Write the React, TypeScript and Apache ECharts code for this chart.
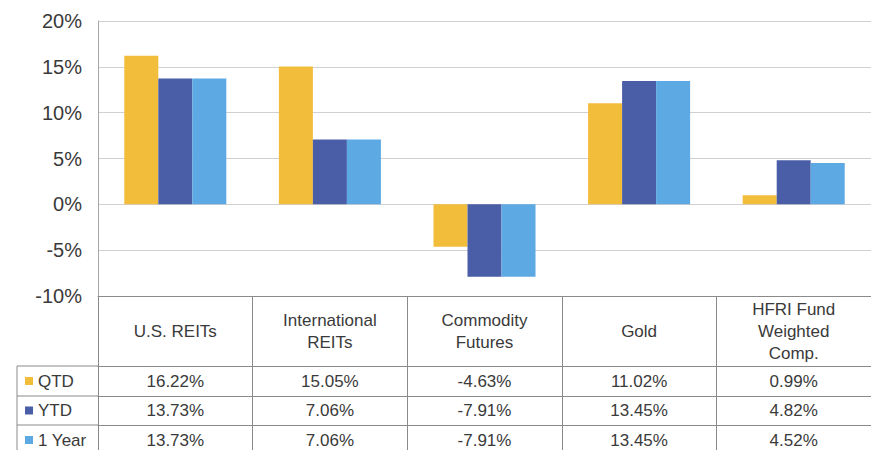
import React, { useEffect, useRef } from "react";
import * as echarts from "echarts";

const categories = ["U.S. REITs", "International\nREITs", "Commodity\nFutures", "Gold", "HFRI Fund\nWeighted\nComp."];
const seriesNames = ["QTD", "YTD", "1 Year"];
const qtd = [16.22, 15.05, -4.63, 11.02, 0.99];
const ytd = [13.73, 7.06, -7.91, 13.45, 4.82];
const oneYear = [13.73, 7.06, -7.91, 13.45, 4.52];
const yMin = -10;
const yMax = 20;
const yStep = 5;

const colors = ["#F2BD3B", "#4A5EA7", "#5DA9E3"];

const fmt = (v: number) => v.toFixed(2) + "%";

export default function App() {
  const ref = useRef<HTMLDivElement>(null);
  useEffect(() => {
    if (!ref.current) return;
    const chart = echarts.init(ref.current, null, { renderer: "svg" });
    const L = 98;
    const T = 21;
    const H = 275;
    const W = 778.5;
    const headerH = 70;
    const rowH = [30, 29, 30];
    const font = "'Liberation Sans', Arial, sans-serif";
    const lineColor = "#8a8a8a";
    const textColor = "#3a3a3a";
    const bottomY = T + H;
    const rowTops = [bottomY + headerH, bottomY + headerH + rowH[0], bottomY + headerH + rowH[0] + rowH[1]];
    const rows = [qtd, ytd, oneYear];

    const rowAxes = rows.map((vals, i) => ({
      type: "category",
      gridIndex: 0,
      position: "bottom",
      offset: rowTops[i] - bottomY,
      data: vals.map(fmt),
      axisLine: { show: true, onZero: false, lineStyle: { color: lineColor, width: 1 } },
      axisTick: { show: true, length: rowH[i], interval: 0, lineStyle: { color: lineColor } },
      axisLabel: {
        interval: 0,
        margin: rowH[i] / 2,
        verticalAlign: "middle",
        fontSize: 17,
        fontFamily: font,
        color: textColor,
      },
    }));

    const legends = seriesNames.map((name, i) => ({
      orient: "horizontal",
      left: 25,
      top: rowTops[i] + rowH[i] / 2 - 9,
      padding: 0,
      itemWidth: 8,
      itemHeight: 8,
      icon: "rect",
      data: [name],
      textStyle: { fontSize: 17, lineHeight: 18, fontFamily: font, color: textColor },
    }));

    const option: any = {
      animation: false,
      color: colors,
      grid: { left: L, top: T, width: W, height: H, containLabel: false },
      legend: legends,
      xAxis: [
        {
          type: "category",
          data: categories,
          position: "bottom",
          axisLine: { show: true, onZero: false, lineStyle: { color: lineColor, width: 1 } },
          axisTick: { show: true, length: headerH, interval: 0, lineStyle: { color: lineColor } },
          axisLabel: {
            interval: 0,
            margin: headerH / 2,
            verticalAlign: "middle",
            fontSize: 17,
            lineHeight: 22,
            fontFamily: font,
            color: textColor,
          },
        },
        ...rowAxes,
      ],
      yAxis: {
        type: "value",
        min: yMin,
        max: yMax,
        interval: yStep,
        axisLine: { show: true, lineStyle: { color: "#a6a6a6" } },
        axisTick: { show: false },
        splitLine: { show: true, lineStyle: { color: "#d0d0d0" } },
        axisLabel: {
          formatter: "{value}%",
          fontSize: 20,
          fontFamily: font,
          color: textColor,
          margin: 16,
        },
      },
      series: [qtd, ytd, oneYear].map((d, i) => ({
        name: seriesNames[i],
        type: "bar",
        xAxisIndex: 0,
        data: d,
        barGap: "0%",
        barCategoryGap: "34%",
      })),
      graphic: [
        ...rowTops.map((y) => ({
          type: "line",
          shape: { x1: 17, y1: y, x2: L, y2: y },
          style: { stroke: lineColor, lineWidth: 1 },
        })),
        {
          type: "line",
          shape: { x1: 17, y1: rowTops[0], x2: 17, y2: 460 },
          style: { stroke: lineColor, lineWidth: 1 },
        },
      ],
    };
    chart.setOption(option);
    return () => chart.dispose();
  }, []);
  return (
    <div
      ref={ref}
      style={{ position: "absolute", left: 0, top: 0, width: 871, height: 450, overflow: "hidden", background: "#fff" }}
    />
  );
}
